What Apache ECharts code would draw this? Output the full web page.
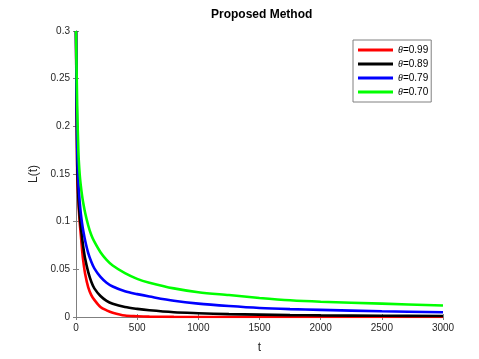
<!DOCTYPE html>
<html>
<head>
<meta charset="utf-8">
<script src="https://cdn.jsdelivr.net/npm/echarts@6/dist/echarts.min.js"></script>
<style>
  html, body { margin: 0; padding: 0; background: #fff; }
  #chart { width: 479px; height: 359px; }
</style>
</head>
<body>
<div id="chart"></div>
<script>
// time samples shared by all curves
var tValues = [0, 10, 20, 30, 40, 50, 60, 75, 100, 125, 150, 200, 250, 300, 400, 500, 600, 800, 1000, 1250, 1500, 1750, 2000, 2500, 3000];

var seriesNames = ["θ=0.99", "θ=0.89", "θ=0.79", "θ=0.70"];
var seriesColors = ["#ff0000", "#000000", "#0000ff", "#00ff00"];

var loss099 = [0.30, 0.15, 0.12, 0.10, 0.085, 0.070, 0.058, 0.045, 0.031, 0.023, 0.018, 0.0105, 0.007, 0.0045, 0.0015, 0.0008, 0.0004, 0.0001, 0, 0, 0, 0, 0, 0, 0];
var loss089 = [0.30, 0.16, 0.125, 0.106, 0.094, 0.083, 0.073, 0.061, 0.047, 0.037, 0.030, 0.022, 0.017, 0.014, 0.0105, 0.0085, 0.007, 0.005, 0.004, 0.003, 0.0025, 0.002, 0.0017, 0.0013, 0.001];
var loss079 = [0.30, 0.18, 0.14, 0.121, 0.108, 0.098, 0.090, 0.080, 0.067, 0.058, 0.051, 0.042, 0.036, 0.032, 0.027, 0.024, 0.0215, 0.017, 0.014, 0.0115, 0.0095, 0.0083, 0.0075, 0.006, 0.005];
var loss070 = [0.30, 0.22, 0.172, 0.150, 0.137, 0.127, 0.119, 0.109, 0.096, 0.086, 0.079, 0.068, 0.060, 0.054, 0.046, 0.040, 0.036, 0.030, 0.026, 0.023, 0.020, 0.0175, 0.016, 0.014, 0.012];

var lossData = [loss099, loss089, loss079, loss070];

var xTicks = { min: 0, max: 3000, interval: 500 };
var yTicks = { min: 0, max: 0.3, interval: 0.05 };

function pairs(ys) {
  return tValues.map(function (t, i) { return [t, ys[i]]; });
}

var axisColor = "#808080";
var labelColor = "#262626";

var series = lossData.map(function (ys, i) {
  return {
    name: seriesNames[i],
    type: "line",
    data: pairs(ys),
    showSymbol: false,
    smooth: 0.3,
    lineStyle: { color: seriesColors[i], width: 2.6 },
    itemStyle: { color: seriesColors[i] },
    z: 2 + i
  };
});

var chart = echarts.init(document.getElementById("chart"));
chart.setOption({
  backgroundColor: "#fff",
  animation: false,
  title: {
    text: "Proposed Method",
    left: 206,
    top: 4,
    textStyle: { fontFamily: "Liberation Sans", fontSize: 12, fontWeight: "bold", color: "#000" }
  },
  grid: { left: 76, right: 36, top: 31, bottom: 39, containLabel: false },
  legend: {
    orient: "vertical",
    left: 353,
    top: 40,
    padding: [5, 3, 5, 5],
    itemWidth: 35,
    itemHeight: 3,
    itemGap: 4,
    icon: "rect",
    borderColor: "#808080",
    borderWidth: 1,
    backgroundColor: "#fff",
    data: seriesNames,
    formatter: function (name) {
      return "{i|θ}{n|" + name.slice(1) + "}";
    },
    textStyle: {
      fontFamily: "Liberation Sans",
      fontSize: 10,
      color: "#000",
      rich: {
        i: { fontStyle: "italic", fontFamily: "Liberation Serif", fontSize: 10, color: "#000" },
        n: { fontFamily: "Liberation Sans", fontSize: 10, color: "#000" }
      }
    }
  },
  xAxis: [
    {
      type: "value",
      min: xTicks.min, max: xTicks.max, interval: xTicks.interval,
      name: "t",
      nameLocation: "middle",
      nameGap: 25,
      nameTextStyle: { fontFamily: "Liberation Sans", fontSize: 12, color: labelColor },
      axisLine: { show: true, lineStyle: { color: axisColor, width: 1 } },
      axisTick: { inside: true, length: 3, lineStyle: { color: axisColor } },
      axisLabel: {
        fontFamily: "Liberation Sans", fontSize: 10, color: labelColor, margin: 6,
        formatter: function (v) { return String(v); }
      },
      splitLine: { show: false }
    },
    {
      type: "value",
      position: "top",
      min: xTicks.min, max: xTicks.max, interval: xTicks.interval,
      axisLine: { show: true, lineStyle: { color: axisColor, width: 1 } },
      axisTick: { inside: true, length: 3, lineStyle: { color: axisColor } },
      axisLabel: { show: false },
      splitLine: { show: false }
    }
  ],
  yAxis: [
    {
      type: "value",
      min: yTicks.min, max: yTicks.max, interval: yTicks.interval,
      name: "L(t)",
      nameLocation: "middle",
      nameGap: 31,
      nameTextStyle: { fontFamily: "Liberation Sans", fontSize: 12, color: labelColor },
      axisLine: { show: true, lineStyle: { color: axisColor, width: 1 } },
      axisTick: { inside: true, length: 3, lineStyle: { color: axisColor } },
      axisLabel: {
        fontFamily: "Liberation Sans", fontSize: 10, color: labelColor, margin: 6,
        formatter: function (v) { return String(Math.round(v * 100) / 100); }
      },
      splitLine: { show: false }
    },
    {
      type: "value",
      position: "right",
      min: yTicks.min, max: yTicks.max, interval: yTicks.interval,
      axisLine: { show: true, lineStyle: { color: axisColor, width: 1 } },
      axisTick: { inside: true, length: 3, lineStyle: { color: axisColor } },
      axisLabel: { show: false },
      splitLine: { show: false }
    }
  ],
  series: series
});
</script>
</body>
</html>
